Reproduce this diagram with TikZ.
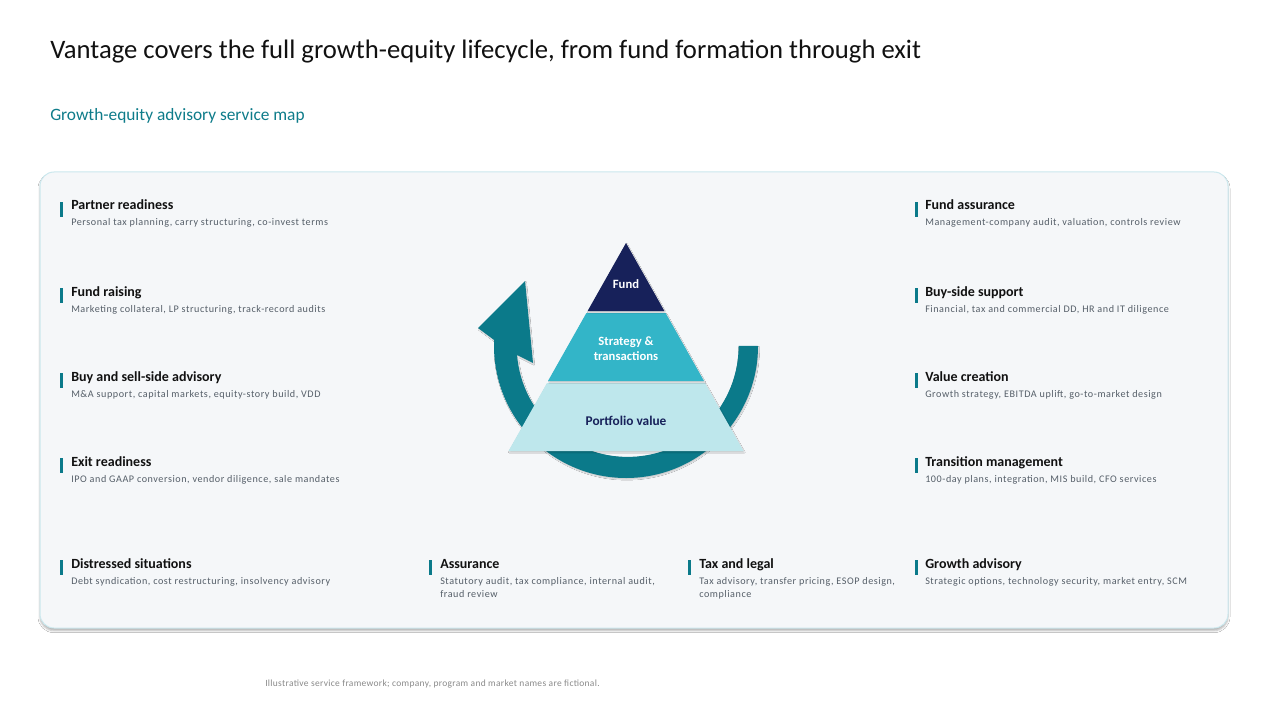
\documentclass[tikz,border=0pt]{standalone}
\usepackage{fontspec}
\setmainfont{Carlito}
\newfontfamily\descfont[LetterSpace=5.5]{Carlito}
\newfontfamily\footfont[LetterSpace=3.3]{Carlito}
\usetikzlibrary{shadows.blur}
\definecolor{accent}{HTML}{0B7A8A}
\definecolor{navyc}{HTML}{17215A}
\definecolor{midteal}{HTML}{33B5C8}
\definecolor{paleteal}{HTML}{BEE7EC}
\definecolor{panelbg}{HTML}{F5F7F9}
\definecolor{panelline}{HTML}{CBE8EE}
\definecolor{headc}{HTML}{111111}
\definecolor{descc}{HTML}{555E68}
\definecolor{subc}{HTML}{0E7C8A}
\definecolor{footc}{HTML}{8A8A8A}
\tikzset{
  head/.style={inner sep=0pt, text=headc, font=\fontsize{10.5}{12}\selectfont\bfseries},
  desc/.style={inner sep=0pt, text=descc, font=\descfont\fontsize{7.6}{9.75}\selectfont, align=left},
  tierlabel/.style={inner sep=0pt, font=\fontsize{9.5}{11}\selectfont\bfseries, align=center},
  softshadow/.style={blur shadow={shadow xshift=0.6pt, shadow yshift=-1pt, shadow blur radius=0.6pt, shadow opacity=18}},
}
\newcommand\svcitem[6]{%
  \fill[accent] (#2,#4-3) rectangle ++(3,15);
  \node[head, anchor=base west] (#1-h) at (#3,#4+5) {#5};
  \node[desc, anchor=base west] (#1-d) at (#3,#4+21) {#6};
}
\newcommand\svcitemtwo[6]{%
  \fill[accent] (#2,#4-3) rectangle ++(3,15);
  \node[head, anchor=base west] (#1-h) at (#3,#4+5) {#5};
  \node[desc, anchor=base west] (#1-d) at (#3,#4+34) {#6};
}
\begin{document}
\begin{tikzpicture}[x=0.75pt, y=-0.75pt]
\useasboundingbox (0,0) rectangle (1280,720);
\fill[white] (0,0) rectangle (1280,720);

% title and subtitle
\node[inner sep=0pt, anchor=base west, text=headc, font=\fontsize{20}{24}\selectfont] (title) at (50,59)
  {Vantage covers the full growth-equity lifecycle, from fund formation through exit};
\node[inner sep=0pt, anchor=base west, text=subc, font=\fontsize{13}{15}\selectfont] (subtitle) at (50,121)
  {Growth-equity advisory service map};

% panel
\path[fill=panelbg, draw=panelline, line width=0.75pt, rounded corners=10.5pt,
  blur shadow={shadow xshift=0pt, shadow yshift=-2pt, shadow blur radius=1.5pt, shadow opacity=30}]
  (40,172) rectangle (1228,628);

% circular arrow
\fill[accent, softshadow] (758,346) arc[start angle=0, end angle=182.6, radius=132]
  -- (478,328) -- (525,281) -- (533,363) -- (517,355)
  arc[start angle=175.3, end angle=0, radius=111] -- cycle;

% pyramid
\fill[paleteal, softshadow] (547,383) -- (705,383) -- (743.5,451) -- (508.5,451) -- cycle;
\fill[midteal, softshadow] (586.4,313) -- (665.6,313) -- (704,381) -- (548,381) -- cycle;
\fill[navyc, softshadow] (626,243) -- (664.4,311) -- (587.6,311) -- cycle;
\node[tierlabel, text=white] (fund) at (626,284) {Fund};
\node[tierlabel, text=white] (strategy) at (626,349) {Strategy \&\\transactions};
\node[tierlabel, text=navyc, font=\fontsize{10}{12}\selectfont\bfseries] (portfolio) at (626,421) {Portfolio value};

% left column
\svcitem{partner}{60}{71}{205}{Partner readiness}{Personal tax planning, carry structuring, co-invest terms}
\svcitem{raising}{60}{71}{291}{Fund raising}{Marketing collateral, LP structuring, track-record audits}
\svcitem{buysell}{60}{71}{376}{Buy and sell-side advisory}{M\&A support, capital markets, equity-story build, VDD}
\svcitem{exit}{60}{71}{461}{Exit readiness}{IPO and GAAP conversion, vendor diligence, sale mandates}
\svcitem{distressed}{60}{71}{563}{Distressed situations}{Debt syndication, cost restructuring, insolvency advisory}

% right column
\svcitem{fundass}{914.5}{925}{205}{Fund assurance}{Management-company audit, valuation, controls review}
\svcitem{buyside}{914.5}{925}{291}{Buy-side support}{Financial, tax and commercial DD, HR and IT diligence}
\svcitem{value}{914.5}{925}{376}{Value creation}{Growth strategy, EBITDA uplift, go-to-market design}
\svcitem{transition}{914.5}{925}{461}{Transition management}{100-day plans, integration, MIS build, CFO services}
\svcitem{growth}{914.5}{925}{563}{Growth advisory}{Strategic options, technology security, market entry, SCM}

% bottom middle
\svcitemtwo{assurance}{429}{440}{563}{Assurance}{Statutory audit, tax compliance, internal audit,\\fraud review}
\svcitemtwo{taxlegal}{688}{699}{563}{Tax and legal}{Tax advisory, transfer pricing, ESOP design,\\compliance}

% footnote
\node[inner sep=0pt, anchor=base west, text=footc, font=\footfont\fontsize{7.1}{8}\selectfont] (foot) at (265,686)
  {Illustrative service framework; company, program and market names are fictional.};
\end{tikzpicture}
\end{document}
